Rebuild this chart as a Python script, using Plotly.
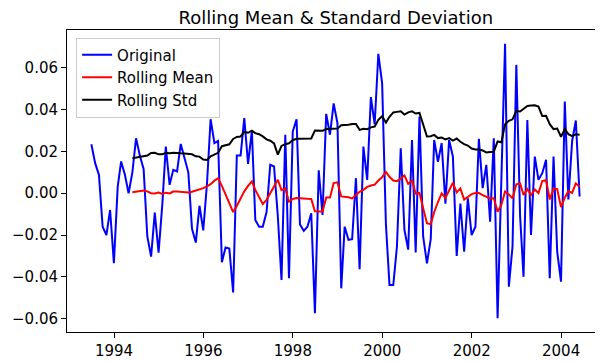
import pandas as pd
import plotly.graph_objects as go

start_date = "1993-06-30"
n_months = 132
window = 12

original = [
    0.0234, 0.0144, 0.0088, -0.0160, -0.0200, -0.0080, -0.0335, 0.0030, 0.0152, 0.0088,
    0.0000, 0.0100, 0.0263, 0.0180, 0.0115, -0.0207, -0.0303, -0.0093, -0.0284, -0.0050,
    0.0223, 0.0040, 0.0112, 0.0104, 0.0236, 0.0170, 0.0100, -0.0170, -0.0236, -0.0060,
    -0.0178, 0.0050, 0.0354, 0.0240, 0.0250, -0.0330, -0.0260, -0.0265, -0.0475, 0.0180,
    0.0180, 0.0360, 0.0140, 0.0300, -0.0128, -0.0160, -0.0160, -0.0090, 0.0136, 0.0128,
    -0.0110, -0.0415, 0.0280, -0.0407, 0.0295, 0.0354, -0.0150, -0.0180, -0.0160, -0.0096,
    -0.0574, 0.0110, -0.0104, 0.0380, 0.0280, 0.0430, 0.0335, -0.0455, -0.0160, -0.0223,
    -0.0220, 0.0072, -0.0364, 0.0223, 0.0064, 0.0460, 0.0330, 0.0667, 0.0526, -0.0150,
    -0.0439, -0.0439, -0.0255, 0.0215, -0.0175, -0.0270, 0.0255, -0.0284, 0.0367, -0.0207,
    -0.0335, -0.0220, 0.0255, 0.0150, 0.0240, -0.0050, 0.0255, 0.0175, -0.0300, -0.0050,
    -0.0280, -0.0024, -0.0200, -0.0160, 0.0260, 0.0024, 0.0136, -0.0136, 0.0263, -0.0598,
    0.0100, 0.0715, -0.0447, -0.0255, 0.0614, -0.0110, -0.0400, 0.0350, -0.0200, 0.0175,
    0.0064, 0.0096, 0.0160, -0.0407, 0.0175, -0.0280, -0.0423, 0.0439, -0.0030, 0.0250,
    0.0348, -0.0016,
]

ytick_vals = [-0.06, -0.04, -0.02, 0.00, 0.02, 0.04, 0.06]
xtick_vals = ["1994-01-01", "1996-01-01", "1998-01-01", "2000-01-01", "2002-01-01", "2004-01-01"]
xtick_text = ["1994", "1996", "1998", "2000", "2002", "2004"]

dates = pd.date_range(start_date, periods=n_months, freq="ME")
s = pd.Series(original, index=dates)
rolmean = s.rolling(window).mean()
rolstd = s.rolling(window).std()

fig = go.Figure()
fig.add_trace(go.Scatter(x=dates, y=s.values, mode="lines", name="Original",
                         line=dict(color="blue", width=2)))
fig.add_trace(go.Scatter(x=dates, y=rolmean.values, mode="lines", name="Rolling Mean",
                         line=dict(color="red", width=2)))
fig.add_trace(go.Scatter(x=dates, y=rolstd.values, mode="lines", name="Rolling Std",
                         line=dict(color="black", width=2)))

font_family = "DejaVu Sans"
# the page body adds an 8px offset, so the figure is 8px smaller than the window
fig.update_layout(
    width=595, height=354,
    margin=dict(l=59, r=0, t=22, b=30),
    paper_bgcolor="white", plot_bgcolor="white",
    font=dict(family=font_family, size=15, color="black"),
    title=dict(text="Rolling Mean & Standard Deviation", x=0.551, xanchor="center",
               y=0.974, yanchor="middle", yref="container",
               font=dict(family=font_family, size=18, color="black")),
    showlegend=True,
    legend=dict(x=0.017, y=0.975, xanchor="left", yanchor="top",
                bgcolor="rgba(255,255,255,0.8)", bordercolor="#cccccc", borderwidth=1,
                font=dict(family=font_family, size=15, color="black"),
                itemwidth=30, tracegroupgap=0),
)
fig.update_xaxes(
    range=["1992-12-13", "2004-12-08"],
    tickvals=xtick_vals, ticktext=xtick_text,
    ticks="outside", ticklen=5, tickwidth=1, tickcolor="black",
    showline=True, linecolor="black", linewidth=1, mirror=True,
    showgrid=False, zeroline=False,
    tickfont=dict(family=font_family, size=15, color="black"),
)
fig.update_yaxes(
    range=[-0.0664, 0.0781],
    tickvals=ytick_vals, tickformat=".2f",
    ticks="outside", ticklen=5, tickwidth=1, tickcolor="black",
    showline=True, linecolor="black", linewidth=1, mirror=True,
    showgrid=False, zeroline=False,
    tickfont=dict(family=font_family, size=15, color="black"),
)

fig.write_html("out.html")
